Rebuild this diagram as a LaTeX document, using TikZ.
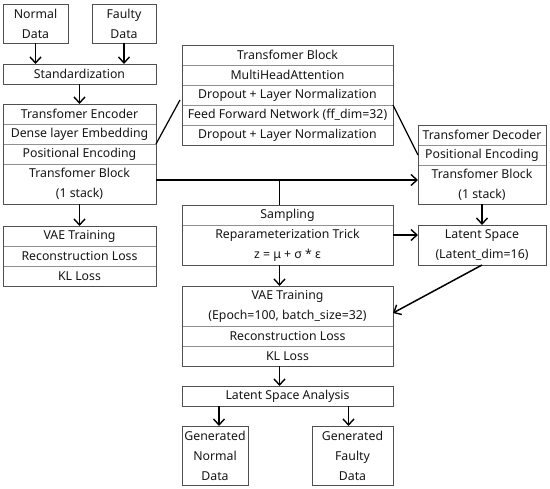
\documentclass[tikz,border=0pt]{standalone}
\usepackage{fontspec}
\setmainfont{Noto Sans}
\usetikzlibrary{arrows.meta,calc}
\definecolor{boxline}{HTML}{505050}
\definecolor{sepline}{HTML}{909090}
\definecolor{txt}{HTML}{151515}
\begin{document}
\begin{tikzpicture}[x=1pt,y=-1pt,
  every node/.style={inner sep=0pt,outer sep=0pt,text=txt,font=\fontsize{12.3}{20}\selectfont},
  row/.style={draw=sepline,line width=0.6pt,anchor=north west,minimum height=20pt,align=center},
  outer/.style={draw=boxline,line width=0.9pt},
  conn/.style={line width=1.5pt,black},
  arr/.style={conn,-{Straight Barb[length=6pt,width=11pt,line width=1.4pt]}}]
\useasboundingbox (0,0) rectangle (550,489);
% input boxes
\node[row,minimum width=65pt,minimum height=39pt] (norm) at (3,4) {Normal\\Data};
\node[row,minimum width=64pt,minimum height=39pt] (faul) at (92,4) {Faulty\\Data};
\node[row,minimum width=153pt] (std) at (3,64) {Standardization};
% encoder
\node[row,minimum width=153pt] (enc1) at (3,104) {Transfomer Encoder};
\node[row,minimum width=153pt] (enc2) at (3,124) {Dense layer Embedding};
\node[row,minimum width=153pt] (enc3) at (3,144) {Positional Encoding};
\node[row,minimum width=153pt,minimum height=40pt] (enc4) at (3,164) {Transfomer Block\\(1 stack)};
\draw[outer] (enc1.north west) rectangle (enc4.south east);
% VAE left
\node[row,minimum width=153pt] (lv1) at (3,226) {VAE Training};
\node[row,minimum width=153pt] (lv2) at (3,246) {Reconstruction Loss};
\node[row,minimum width=153pt] (lv3) at (3,266) {KL Loss};
\draw[outer] (lv1.north west) rectangle (lv3.south east);
% transformer block
\node[row,minimum width=211pt] (tb1) at (182,45) {Transfomer Block};
\node[row,minimum width=211pt] (tb2) at (182,65) {MultiHeadAttention};
\node[row,minimum width=211pt] (tb3) at (182,85) {Dropout + Layer Normalization};
\node[row,minimum width=211pt] (tb4) at (182,105) {Feed Forward Network (ff\_dim=32)};
\node[row,minimum width=211pt] (tb5) at (182,125) {Dropout + Layer Normalization};
\draw[outer] (tb1.north west) rectangle (tb5.south east);
% decoder
\node[row,minimum width=128pt] (dec1) at (418,125) {Transfomer Decoder};
\node[row,minimum width=128pt] (dec2) at (418,145) {Positional Encoding};
\node[row,minimum width=128pt,minimum height=39pt] (dec3) at (418,165) {Transfomer Block\\(1 stack)};
\draw[outer] (dec1.north west) rectangle (dec3.south east);
% sampling
\node[row,minimum width=211pt] (sam1) at (182,205) {Sampling};
\node[row,minimum width=211pt,minimum height=40pt] (sam2) at (182,225) {Reparameterization Trick\\z = μ + σ * ε};
\draw[outer] (sam1.north west) rectangle (sam2.south east);
% latent space
\node[row,minimum width=128pt,minimum height=40pt] (lat) at (418,225) {Latent Space\\(Latent\_dim=16)};
\draw[outer] (lat.north west) rectangle (lat.south east);
% VAE middle
\node[row,minimum width=211pt,minimum height=40pt] (mv1) at (182,286) {VAE Training\\(Epoch=100, batch\_size=32)};
\node[row,minimum width=211pt] (mv2) at (182,326) {Reconstruction Loss};
\node[row,minimum width=211pt] (mv3) at (182,346) {KL Loss};
\draw[outer] (mv1.north west) rectangle (mv3.south east);
% analysis
\node[row,minimum width=211pt] (lsa) at (182,386) {Latent Space Analysis};
\draw[outer] (lsa.north west) rectangle (lsa.south east);
\node[row,minimum width=66pt,minimum height=59pt] (gn) at (182,426) {Generated\\Normal\\Data};
\node[row,minimum width=81pt,minimum height=59pt] (gf) at (312,426) {Generated\\Faulty\\Data};
\draw[outer] (norm.north west) rectangle (norm.south east);
\draw[outer] (faul.north west) rectangle (faul.south east);
\draw[outer] (std.north west) rectangle (std.south east);
\draw[outer] (gn.north west) rectangle (gn.south east);
\draw[outer] (gf.north west) rectangle (gf.south east);
% connectors
\draw[arr] (norm.south) -- (norm.south |- std.north);
\draw[arr] (faul.south) -- (faul.south |- std.north);
\draw[arr] (std.south) -- (enc1.north);
\draw[arr] (enc4.south) -- (lv1.north);
\coordinate (tbl) at ([xshift=-2pt,yshift=5pt]tb3.south west);
\draw[conn,line width=1.2pt] (enc2.south east) -- (tbl);
\draw[conn,line width=1.2pt] (tb4.north east) -- (dec2.west);
\coordinate (h1) at ([yshift=4pt]enc4.east);
\coordinate (mx) at ([xshift=-8pt]sam1.north);
\draw[arr] (h1) -- (h1 -| dec3.west);
\draw[conn] (mx |- h1) -- (mx);
\coordinate (s2) at ([yshift=10pt]sam2.east);
\draw[arr] (s2) -- (s2 -| lat.west);
\draw[arr] (dec3.south) -- (lat.north);
\draw[arr] (mx |- sam2.south) -- (mx |- mv1.north);
\draw[arr] (lat.south) -- ([yshift=-7pt]mv1.east);
\draw[arr] (mx |- mv3.south) -- (mx |- lsa.north);
\coordinate (g1) at ([xshift=4pt]gn.north);
\coordinate (g2) at ([xshift=-4pt]gf.north);
\draw[arr] (g1 |- lsa.south) -- (g1);
\draw[arr] (g2 |- lsa.south) -- (g2);
\end{tikzpicture}
\end{document}
